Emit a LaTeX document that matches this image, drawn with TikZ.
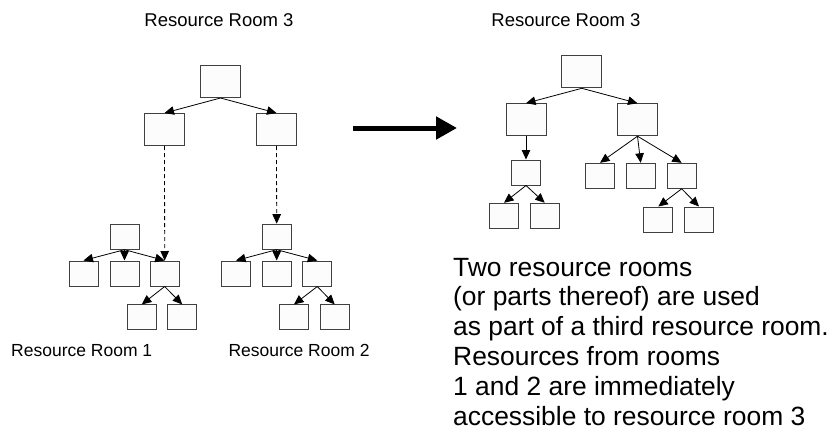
\documentclass[tikz,border=0pt]{standalone}
\usepackage{fontspec}
\setmainfont{Liberation Sans}
\usetikzlibrary{arrows.meta}
\definecolor{rrBoxStroke}{HTML}{404040}
\definecolor{rrBoxFill}{HTML}{FCFCFC}
\definecolor{rrInk}{HTML}{000000}

\begin{document}
\begin{tikzpicture}[x=1pt,y=-1pt,text=rrInk,
  rrbig/.style={draw=rrBoxStroke,fill=rrBoxFill,line width=1pt,
    minimum width=40pt,minimum height=32pt,inner sep=0pt},
  rrsmall/.style={rrbig,minimum width=29pt,minimum height=25pt},
  rrlink/.style={draw=rrInk,line width=0.8pt,-{Triangle[length=9.5pt,width=8.5pt]}},
  rrshare/.style={rrlink,dash pattern=on 4pt off 3pt},
  rrtitle/.style={font=\fontsize{18.5}{22}\selectfont,anchor=base,inner sep=0pt},
  rrlabel/.style={font=\fontsize{17.5}{20}\selectfont,anchor=base west,inner sep=0pt}]
  \useasboundingbox (0,0) rectangle (833,434);

  \node[rrtitle] (tleft) at (219,26) {Resource Room 3};
  \node[rrtitle] (tright) at (566,26) {Resource Room 3};

  % left panel: room 3 on top, rooms 1 and 2 below
  \node[rrbig] (a0) at (220.5,81.5) {};
  \node[rrbig] (a1) at (164.5,129.5) {};
  \node[rrbig] (a2) at (276.5,129.5) {};

  \node[rrsmall] (p0) at (124.5,236.7) {};
  \foreach \n/\x in {p1/83.5,p2/124.5,p3/164.7,q1/236,q2/276.7,q3/317.3}
    {\node[rrsmall] (\n) at (\x,273.5) {};}
  \node[rrsmall] (q0) at (276.7,236.7) {};
  \foreach \n/\x in {p31/141.8,p32/182.2,q31/294,q32/334.7}
    {\node[rrsmall] (\n) at (\x,317.4) {};}

  \foreach \s/\t in {a0/a1,a0/a2,p0/p1,p0/p2,p0/p3,p3/p31,p3/p32,
      q0/q1,q0/q2,q0/q3,q3/q31,q3/q32}
    {\draw[rrlink] (\s.south) -- (\t.north);}
  \draw[rrshare] (a1.south) -- (p3.north);
  \draw[rrshare] (a2.south) -- (q0.north);

  \node[rrlabel] (lroom1) at (11,356) {Resource Room 1};
  \node[rrlabel] (lroom2) at (228.3,356) {Resource Room 2};

  \coordinate (gofrom) at (353,128);
  \coordinate (goto) at (457,128);
  \draw[line width=5pt,-{Triangle[length=21pt,width=22pt]}] (gofrom) -- (goto);

  % right panel: the combined room 3
  \node[rrbig] (r0) at (581.8,71.8) {};
  \node[rrbig] (r1) at (526,119.7) {};
  \node[rrbig] (r2) at (637.5,119.7) {};
  \node[rrsmall] (r11) at (526,172.5) {};
  \foreach \n/\x in {r111/504,r112/544.7}
    {\node[rrsmall] (\n) at (\x,215.8) {};}
  \foreach \n/\x in {r21/600,r22/640.7,r23/681.7}
    {\node[rrsmall] (\n) at (\x,175.8) {};}
  \foreach \n/\x in {r231/658.3,r232/699}
    {\node[rrsmall] (\n) at (\x,219.5) {};}

  \foreach \s/\t in {r0/r1,r0/r2,r1/r11,r11/r111,r11/r112,
      r2/r21,r2/r22,r2/r23,r23/r231,r23/r232}
    {\draw[rrlink] (\s.south) -- (\t.north);}

  \node[anchor=base west,align=left,inner sep=0pt,
    font=\fontsize{26.4}{29.8}\selectfont] (note) at (453,425)
    {Two resource rooms\\(or parts thereof) are used\\as part of a third resource room.\\
     Resources from rooms\\1 and 2 are immediately\\accessible to resource room 3};
\end{tikzpicture}
\end{document}
